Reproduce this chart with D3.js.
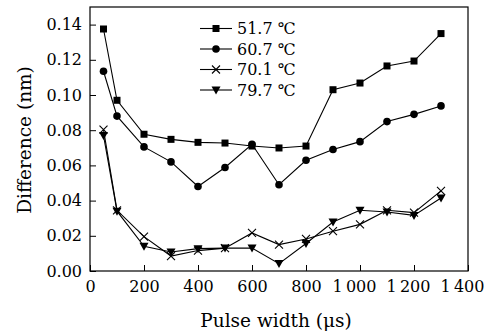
<!DOCTYPE html>
<html>
<head>
<meta charset="utf-8">
<script src="https://cdn.jsdelivr.net/npm/d3@7"></script>
<style>
  body { margin: 0; background: #fff; }
  svg text { font-family: 'DejaVu Serif', serif; fill: #000; }
</style>
</head>
<body>
<svg id="chart" width="486" height="333"></svg>
<script>
const width = 486
const height = 333
const margin = { top: 7, right: 18, bottom: 62, left: 90 }

// pulse widths (µs)
const pulseWidths = [50, 100, 200, 300, 400, 500, 600, 700, 800, 900, 1000, 1100, 1200, 1300]

const s517 = [0.1375, 0.097, 0.0777, 0.0748, 0.0731, 0.0727, 0.071, 0.0699, 0.071, 0.103, 0.1068, 0.1165, 0.1193, 0.1349]
const s607 = [0.1135, 0.088, 0.0705, 0.062, 0.048, 0.0588, 0.072, 0.049, 0.0629, 0.069, 0.0735, 0.0849, 0.089, 0.0938]
const s701 = [0.0803, 0.0345, 0.0195, 0.0085, 0.0116, 0.013, 0.0216, 0.015, 0.0182, 0.0226, 0.0265, 0.0345, 0.0332, 0.0455]
const s797 = [0.077, 0.034, 0.014, 0.0108, 0.0127, 0.013, 0.013, 0.0042, 0.0156, 0.0278, 0.0345, 0.0335, 0.0316, 0.0415]

const seriesNames = ['51.7 ℃', '60.7 ℃', '70.1 ℃', '79.7 ℃']
const seriesMarkers = ['square', 'circle', 'cross', 'triangle']

const xTicks = [0, 200, 400, 600, 800, 1000, 1200, 1400]
const yTicks = [0, 0.02, 0.04, 0.06, 0.08, 0.10, 0.12, 0.14]

const series = [s517, s607, s701, s797].map((vals, i) => ({
  name: seriesNames[i],
  marker: seriesMarkers[i],
  points: vals.map((v, j) => ({ x: pulseWidths[j], y: v })),
}))

const svg = d3.select('#chart')
const iw = width - margin.left - margin.right
const ih = height - margin.top - margin.bottom

const x = d3.scaleLinear().domain([0, 1400]).range([margin.left, margin.left + iw])
const y = d3.scaleLinear().domain([0, 0.15]).range([margin.top + ih, margin.top])

// 1000 -> "1 000" with a thin space
const fmtX = (d) => (d >= 1000 ? String(d).replace(/^(\d)/, '$1\u2009') : String(d))

// axes (ticks inside)
svg.append('g')
  .attr('transform', `translate(0,${margin.top + ih})`)
  .call(d3.axisBottom(x).tickValues(xTicks).tickSizeInner(-6).tickSizeOuter(0).tickPadding(10).tickFormat(fmtX))
  .call((g) => g.select('.domain').remove())
  .call((g) => g.selectAll('text').attr('font-size', 16).attr('dx', (d) => (d >= 1000 ? -6 : 0)))

svg.append('g')
  .attr('transform', `translate(${margin.left},0)`)
  .call(d3.axisLeft(y).tickValues(yTicks).tickSizeInner(-6).tickSizeOuter(0).tickPadding(8).tickFormat(d3.format('.2f')))
  .call((g) => g.select('.domain').remove())
  .call((g) => g.selectAll('text').attr('font-size', 16))

svg.selectAll('.tick line').attr('stroke', '#000')

// frame
svg.append('rect')
  .attr('x', margin.left)
  .attr('y', margin.top)
  .attr('width', iw)
  .attr('height', ih)
  .attr('fill', 'none')
  .attr('stroke', '#000')
  .attr('stroke-width', 1.2)

// axis titles
svg.append('text')
  .attr('x', 276)
  .attr('y', 327)
  .attr('text-anchor', 'middle')
  .attr('font-size', 18.5)
  .text('Pulse width (μs)')

svg.append('text')
  .attr('transform', 'translate(31,140) rotate(-90)')
  .attr('text-anchor', 'middle')
  .attr('font-size', 18.5)
  .text('Difference (nm)')

function drawMarker(g, type) {
  if (type === 'square') {
    g.append('rect').attr('x', -3.5).attr('y', -3.5).attr('width', 7).attr('height', 7).attr('fill', '#000')
  } else if (type === 'circle') {
    g.append('circle').attr('r', 3.8).attr('fill', '#000')
  } else if (type === 'cross') {
    g.append('path').attr('d', 'M-4,-4L4,4M-4,4L4,-4').attr('stroke', '#000').attr('stroke-width', 1.1).attr('fill', 'none')
  } else {
    g.append('path').attr('d', 'M-4.5,-3.5L4.5,-3.5L0,4.5Z').attr('fill', '#000')
  }
}

const line = d3.line().x((d) => x(d.x)).y((d) => y(d.y))

const plot = svg.append('g')
series.forEach((s) => {
  plot.append('path')
    .datum(s.points)
    .attr('d', line)
    .attr('fill', 'none')
    .attr('stroke', '#000')
    .attr('stroke-width', 1.1)

  plot.selectAll(null)
    .data(s.points)
    .join('g')
    .attr('transform', (d) => `translate(${x(d.x)},${y(d.y)})`)
    .each(function () { drawMarker(d3.select(this), s.marker) })
})

// legend
const legend = svg.append('g').attr('transform', 'translate(200,28.5)')
series.forEach((s, i) => {
  const row = legend.append('g').attr('transform', `translate(0,${i * 20.5})`)
  row.append('line').attr('x1', 0).attr('x2', 32).attr('stroke', '#000').attr('stroke-width', 1.1)
  const m = row.append('g').attr('transform', 'translate(16,0)')
  drawMarker(m, s.marker)
  row.append('text')
    .attr('x', 37)
    .attr('dy', '0.35em')
    .attr('font-size', 16)
    .text(s.name)
})
</script>
</body>
</html>
